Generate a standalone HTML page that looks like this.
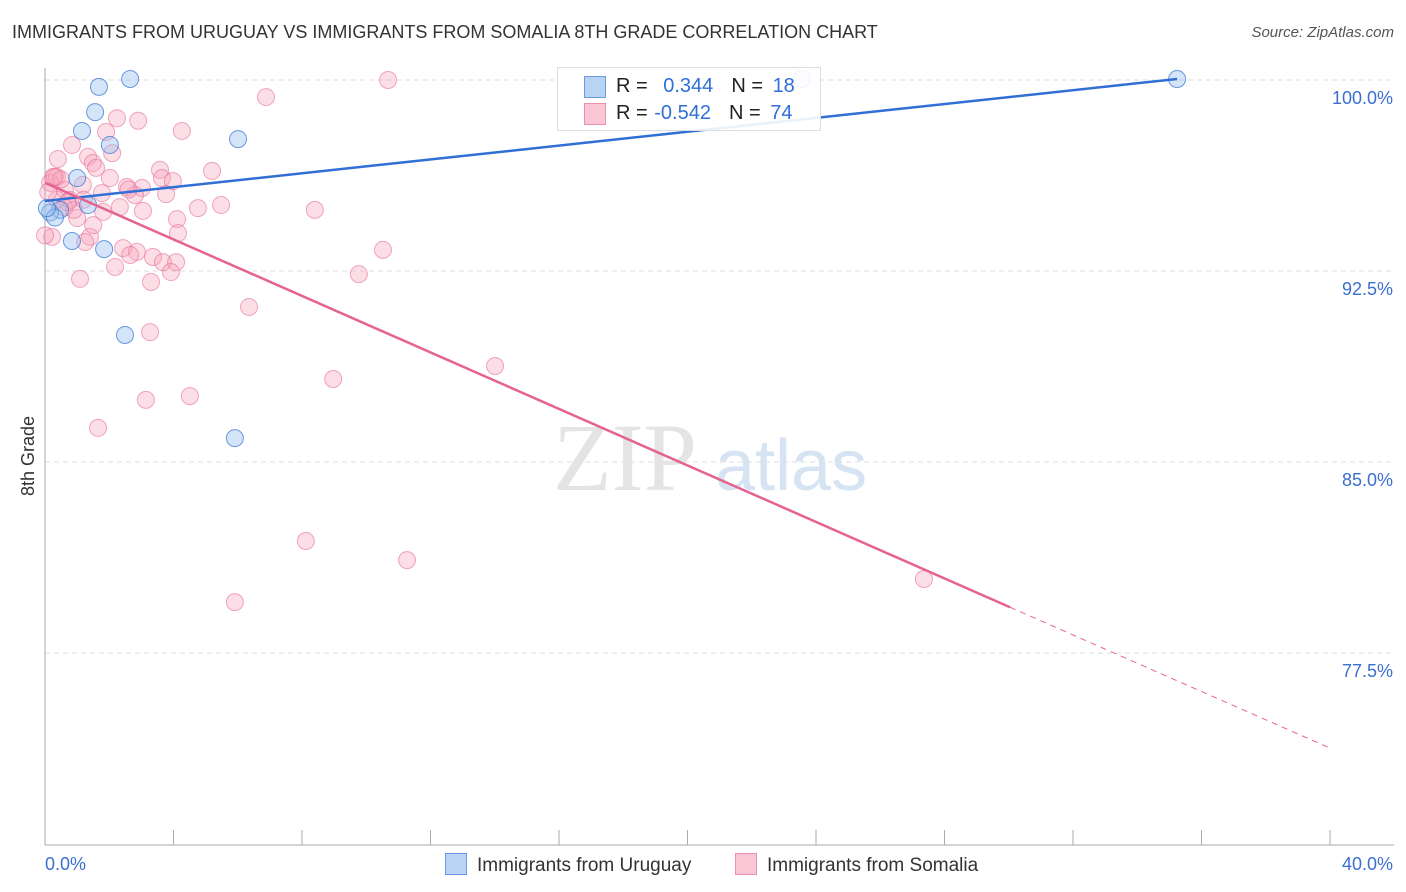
<!DOCTYPE html>
<html><head><meta charset="utf-8">
<style>
body{margin:0;background:#fff;font-family:"Liberation Sans",sans-serif;}
#wrap{position:relative;width:1406px;height:892px;overflow:hidden;}
.t{position:absolute;white-space:nowrap;}
</style></head>
<body>
<div id="wrap">
<div class="t" style="left:12px;top:22px;font-size:18px;color:#333;">IMMIGRANTS FROM URUGUAY VS IMMIGRANTS FROM SOMALIA 8TH GRADE CORRELATION CHART</div>
<div class="t" style="right:12px;top:24px;font-size:15px;color:#555;font-style:italic;">Source: ZipAtlas.com</div>
<svg id="plot" width="1406" height="892" style="position:absolute;left:0;top:0"></svg>
</div>
<script>
const xTickVals=[0,4,8,12,16,20,24,28,32,36,40];
const yTickVals=[100,92.5,85,77.5];
const yTickLabels=["100.0%","92.5%","85.0%","77.5%"];
const uruguayX=[2.65,1.68,1.56,1.15,2.02,6.01,1.0,1.34,0.47,0.16,0.31,0.84,1.84,2.49,5.91,23.56,35.24,0.06];
const uruguayY=[100.04,99.73,98.74,98.0,97.45,97.68,96.15,95.09,94.9,94.8,94.6,93.68,93.36,89.99,85.94,100.04,100.04,94.97];
const somaliaX=[10.68,6.88,2.24,2.9,4.26,1.9,0.84,2.09,0.4,1.34,1.49,1.59,0.25,3.58,5.2,3.64,3.98,2.02,1.18,0.62,2.55,3.02,1.77,2.8,3.77,0.78,4.76,5.48,8.4,2.33,1.81,3.05,1.0,4.11,4.14,1.4,1.25,0.22,2.43,2.86,2.65,3.36,3.67,4.08,3.92,2.18,1.09,3.3,10.52,9.77,6.35,3.27,8.97,3.14,4.51,1.65,14.01,8.12,11.27,27.36,5.91,0.0,0.37,0.16,0.37,0.6,0.9,1.2,0.5,2.6,0.3,0.7,1.5,0.1];
const somaliaY=[100,99.33,98.5,98.4,98.0,97.96,97.45,97.13,96.9,96.98,96.74,96.55,96.19,96.47,96.43,96.15,96.03,96.15,95.88,95.68,95.8,95.76,95.56,95.48,95.52,95.29,94.97,95.09,94.9,95.01,94.82,94.86,94.58,94.54,93.99,93.84,93.64,93.84,93.4,93.25,93.13,93.05,92.85,92.85,92.46,92.66,92.19,92.07,93.33,92.38,91.09,90.1,88.26,87.44,87.59,86.34,88.77,81.9,81.15,80.41,79.5,93.9,95.3,95.96,96.19,95.0,94.9,95.3,96.1,95.7,96.2,95.2,94.3,95.6];
const uruguayLine=[[0,95.25],[35.24,100.04]];
const somaliaLine=[[0,95.96],[30.04,79.3]];
const somaliaDash=[[30.04,79.3],[40,73.77]];

const NS="http://www.w3.org/2000/svg";
const svg=document.getElementById('plot');
const xs=v=>45+v*32.125;
const ys=v=>80+(100-v)*25.47;
function mk(tag,attrs,parent){const e=document.createElementNS(NS,tag);for(const k in attrs)e.setAttribute(k,attrs[k]);(parent||svg).appendChild(e);return e;}

yTickVals.forEach((v,i)=>{
  const g=mk('line',{x1:45,x2:1394,y1:ys(v),y2:ys(v),stroke:'#ddd','stroke-dasharray':'5,4'});
  
  
  const t=mk('text',{x:1393,y:ys(v)+24,'text-anchor':'end','font-size':18,fill:'#3b6fd1','font-family':'Liberation Sans'});
  t.textContent=yTickLabels[i];
  
  
});
const ax=mk('line',{x1:45,x2:45,y1:68,y2:845,stroke:'#aaa'});


const bx=mk('line',{x1:45,x2:1394,y1:845,y2:845,stroke:'#aaa'});


xTickVals.forEach(v=>{
  const l=mk('line',{x1:xs(v),x2:xs(v),y1:830,y2:845,stroke:'#aaa'});
  
  
});
const x0=mk('text',{x:45,y:870,'font-size':18,fill:'#3b6fd1','font-family':'Liberation Sans'});x0.textContent='0.0%';


const x1=mk('text',{x:1393,y:870,'text-anchor':'end','font-size':18,fill:'#3b6fd1','font-family':'Liberation Sans'});x1.textContent='40.0%';


const yt=mk('text',{x:34,y:456,'text-anchor':'middle','font-size':18,fill:'#333',transform:'rotate(-90 34 456)','font-family':'Liberation Sans'});yt.textContent='8th Grade';


// watermark
const wm=mk('text',{x:553,y:490,'font-size':96,fill:'#e4e4e4','font-family':'Liberation Serif'});wm.textContent='ZIP';


const wm2=mk('text',{x:715,y:490,'font-size':72,fill:'#d5e3f3','font-family':'Liberation Sans'});wm2.textContent='atlas';



somaliaX.forEach((x,i)=>{
  const c=mk('circle',{cx:xs(x),cy:ys(somaliaY[i]),r:8.5,fill:'rgba(246,160,186,0.35)',stroke:'rgba(232,110,150,0.6)','stroke-width':1});
  
  
});
uruguayX.forEach((x,i)=>{
  const c=mk('circle',{cx:xs(x),cy:ys(uruguayY[i]),r:8.5,fill:'rgba(150,190,240,0.4)',stroke:'rgba(60,120,210,0.75)','stroke-width':1});
  
  
});
const lu=mk('line',{x1:xs(uruguayLine[0][0]),y1:ys(uruguayLine[0][1]),x2:xs(uruguayLine[1][0]),y2:ys(uruguayLine[1][1]),stroke:'#2f6fd6','stroke-width':2.5});


const ls=mk('line',{x1:xs(somaliaLine[0][0]),y1:ys(somaliaLine[0][1]),x2:xs(somaliaLine[1][0]),y2:ys(somaliaLine[1][1]),stroke:'#e5638e','stroke-width':2.5});


const ld=mk('line',{x1:xs(somaliaDash[0][0]),y1:ys(somaliaDash[0][1]),x2:xs(somaliaDash[1][0]),y2:ys(somaliaDash[1][1]),stroke:'#e5638e','stroke-width':1,'stroke-dasharray':'6,5'});


</script>
<div class="t" style="left:557px;top:67px;width:262px;height:62px;border:1px solid #ddd;background:rgba(255,255,255,0.9);font-size:20px;">
  <div style="position:absolute;left:26px;top:8px;width:20px;height:20px;background:#b9d3f5;border:1px solid #6a9be0;"></div>
  <div style="position:absolute;left:58px;top:7px;color:#222;">R = <span style="color:#2f6fd6;margin-left:10px;">0.344</span><span style="margin-left:18px;">N = </span><span style="color:#2f6fd6;margin-left:4px;">18</span></div>
  <div style="position:absolute;left:26px;top:35px;width:20px;height:20px;background:#fac5d5;border:1px solid #ec8fad;"></div>
  <div style="position:absolute;left:58px;top:34px;color:#222;">R = <span style="color:#2f6fd6;margin-left:1px;">-0.542</span><span style="margin-left:18px;">N = </span><span style="color:#2f6fd6;margin-left:4px;">74</span></div>
</div>
<div class="t" style="left:445px;top:853px;font-size:19px;color:#333;">
  <span style="display:inline-block;width:20px;height:20px;background:#b9d3f5;border:1px solid #6a9be0;vertical-align:-4px;margin-right:10px;"></span>Immigrants from Uruguay</div>
<div class="t" style="left:735px;top:853px;font-size:19px;color:#333;">
  <span style="display:inline-block;width:20px;height:20px;background:#fac5d5;border:1px solid #ec8fad;vertical-align:-4px;margin-right:10px;"></span>Immigrants from Somalia</div>
</body></html>
